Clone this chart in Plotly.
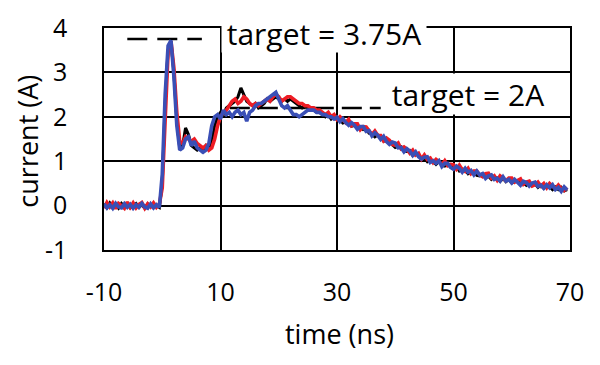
import plotly.graph_objects as go

time_ns = [
    -10.0, -9.5, -9.0, -8.5, -8.0, -7.5, -7.0, -6.5, -6.0, -5.5,
    -5.0, -4.5, -4.0, -3.5, -3.0, -2.5, -2.0, -1.5, -1.0, -0.5,
    0.0, 0.5, 1.0, 1.5, 2.0, 2.5, 3.0, 3.5, 4.0, 4.5,
    5.0, 5.5, 6.0, 6.5, 7.0, 7.5, 8.0, 8.5, 9.0, 9.5,
    10.0, 10.5, 11.0, 11.5, 12.0, 12.5, 13.0, 13.5, 14.0, 14.5,
    15.0, 15.5, 16.0, 16.5, 17.0, 17.5, 18.0, 18.5, 19.0, 19.5,
    20.0, 20.5, 21.0, 21.5, 22.0, 22.5, 23.0, 23.5, 24.0, 24.5,
    25.0, 25.5, 26.0, 26.5, 27.0, 27.5, 28.0, 28.5, 29.0, 29.5,
    30.0, 30.5, 31.0, 31.5, 32.0, 32.5, 33.0, 33.5, 34.0, 34.5,
    35.0, 35.5, 36.0, 36.5, 37.0, 37.5, 38.0, 38.5, 39.0, 39.5,
    40.0, 40.5, 41.0, 41.5, 42.0, 42.5, 43.0, 43.5, 44.0, 44.5,
    45.0, 45.5, 46.0, 46.5, 47.0, 47.5, 48.0, 48.5, 49.0, 49.5,
    50.0, 50.5, 51.0, 51.5, 52.0, 52.5, 53.0, 53.5, 54.0, 54.5,
    55.0, 55.5, 56.0, 56.5, 57.0, 57.5, 58.0, 58.5, 59.0, 59.5,
    60.0, 60.5, 61.0, 61.5, 62.0, 62.5, 63.0, 63.5, 64.0, 64.5,
    65.0, 65.5, 66.0, 66.5, 67.0, 67.5, 68.0, 68.5, 69.0, 69.5,
]

current_black = [
    0.04, -0.05, 0.06, -0.03, 0.02, -0.06, 0.05, -0.02, 0.04, -0.05,
    0.01, 0.05, -0.04, 0.02, -0.06, 0.04, -0.02, 0.05, 0.00, -0.04,
    0.5, 2.3, 3.5, 3.7, 3.0, 1.9, 1.3, 1.35, 1.75, 1.6,
    1.35, 1.3, 1.25, 1.3, 1.2, 1.35, 1.3, 1.45, 1.8, 2.0,
    2.1, 2.05, 2.2, 2.25, 2.3, 2.35, 2.45, 2.65, 2.5, 2.35,
    2.3, 2.25, 2.3, 2.2, 2.25, 2.3, 2.4, 2.35, 2.4, 2.45,
    2.4, 2.35, 2.4, 2.35, 2.4, 2.35, 2.3, 2.25, 2.2, 2.25,
    2.2, 2.15, 2.15, 2.1, 2.1, 2.05, 2.0, 2.05, 1.95, 2.0,
    1.93, 1.95, 1.86, 1.88, 1.89, 1.79, 1.81, 1.73, 1.77, 1.71,
    1.73, 1.63, 1.61, 1.55, 1.59, 1.54, 1.45, 1.46, 1.46, 1.37,
    1.31, 1.34, 1.33, 1.23, 1.22, 1.24, 1.13, 1.16, 1.14, 1.04,
    1.07, 0.99, 1.04, 1.00, 0.93, 0.99, 0.91, 0.89, 0.94, 0.89,
    0.83, 0.88, 0.78, 0.82, 0.81, 0.72, 0.76, 0.77, 0.68, 0.67,
    0.71, 0.63, 0.66, 0.59, 0.65, 0.61, 0.55, 0.61, 0.54, 0.59,
    0.51, 0.55, 0.56, 0.47, 0.51, 0.46, 0.52, 0.45, 0.49, 0.41,
    0.46, 0.39, 0.45, 0.42, 0.36, 0.42, 0.36, 0.41, 0.33, 0.36,
]

current_red = [
    -0.06, 0.07, -0.03, 0.06, -0.07, 0.05, 0.00, -0.06, 0.08, -0.04,
    0.06, -0.05, 0.03, 0.07, -0.06, 0.04, -0.03, 0.06, -0.04, 0.03,
    0.4, 2.2, 3.45, 3.7, 3.1, 2.1, 1.45, 1.4, 1.55, 1.5,
    1.45, 1.5, 1.4, 1.35, 1.3, 1.35, 1.25, 1.3, 1.5, 1.8,
    2.0, 2.1, 2.15, 2.25, 2.35, 2.4, 2.3, 2.35, 2.45, 2.4,
    2.3, 2.25, 2.3, 2.25, 2.3, 2.35, 2.4, 2.35, 2.45, 2.5,
    2.45, 2.35, 2.4, 2.45, 2.45, 2.4, 2.35, 2.3, 2.3, 2.25,
    2.25, 2.2, 2.2, 2.15, 2.15, 2.1, 2.05, 2.1, 2.0, 2.05,
    1.94, 2.00, 1.94, 1.87, 1.94, 1.80, 1.84, 1.84, 1.71, 1.78,
    1.77, 1.67, 1.60, 1.68, 1.58, 1.58, 1.46, 1.52, 1.47, 1.38,
    1.36, 1.41, 1.28, 1.32, 1.27, 1.18, 1.25, 1.14, 1.18, 1.05,
    1.14, 1.04, 1.07, 0.97, 1.04, 0.99, 0.92, 1.01, 0.90, 0.93,
    0.92, 0.82, 0.91, 0.81, 0.77, 0.84, 0.72, 0.78, 0.78, 0.69,
    0.65, 0.72, 0.73, 0.62, 0.67, 0.57, 0.67, 0.62, 0.56, 0.62,
    0.62, 0.53, 0.57, 0.60, 0.48, 0.53, 0.55, 0.44, 0.47, 0.53,
    0.44, 0.50, 0.40, 0.50, 0.44, 0.38, 0.46, 0.38, 0.34, 0.41,
]

current_blue = [
    0.04, -0.05, 0.02, -0.06, 0.05, -0.03, -0.05, 0.04, -0.04, 0.03,
    -0.06, 0.02, -0.04, 0.05, -0.03, -0.06, 0.04, -0.05, 0.02, -0.04,
    0.7, 2.5, 3.6, 3.72, 2.9, 1.8, 1.25, 1.3, 1.5, 1.55,
    1.35, 1.45, 1.3, 1.25, 1.2, 1.25, 1.4, 1.8, 2.0, 2.05,
    1.95, 2.15, 2.05, 2.1, 2.0, 2.1, 2.15, 2.05, 2.1, 1.9,
    2.1, 2.15, 2.25, 2.3, 2.3, 2.35, 2.4, 2.45, 2.5, 2.55,
    2.4, 2.25, 2.2, 2.25, 2.15, 2.05, 2.05, 2.0, 2.05, 2.1,
    2.15, 2.15, 2.15, 2.1, 2.1, 2.05, 2.05, 2.0, 2.0, 1.95,
    1.99, 1.89, 1.96, 1.87, 1.81, 1.87, 1.81, 1.72, 1.78, 1.78,
    1.67, 1.69, 1.57, 1.64, 1.58, 1.49, 1.56, 1.44, 1.38, 1.43,
    1.41, 1.30, 1.31, 1.21, 1.28, 1.23, 1.13, 1.21, 1.10, 1.05,
    1.09, 1.10, 0.97, 1.01, 0.95, 1.01, 0.88, 0.95, 0.95, 0.86,
    0.82, 0.89, 0.84, 0.75, 0.84, 0.75, 0.79, 0.69, 0.78, 0.69,
    0.72, 0.61, 0.67, 0.69, 0.59, 0.62, 0.55, 0.65, 0.55, 0.59,
    0.51, 0.59, 0.52, 0.46, 0.55, 0.52, 0.44, 0.51, 0.53, 0.43,
    0.46, 0.39, 0.47, 0.40, 0.47, 0.36, 0.41, 0.32, 0.42, 0.35,
]

target_peak_x = [-6.0, 6.8]
target_peak_y = [3.75, 3.75]
target_flat_x = [11.6, 37.5]
target_flat_y = [2.2, 2.2]

x_ticks = [-10, 10, 30, 50, 70]
x_tick_text = ["-10", "10", "30", "50", "70"]
y_ticks = [-1, 0, 1, 2, 3, 4]
y_tick_text = ["-1", "0", "1", "2", "3", "4"]

assert len(time_ns) == len(current_black) == len(current_red) == len(current_blue), (
    len(time_ns), len(current_black), len(current_red), len(current_blue))

FONT = "Open Sans"

fig = go.Figure()
fig.add_trace(go.Scatter(x=target_peak_x, y=target_peak_y, mode="lines",
                         line=dict(color="black", width=2.5, dash="20px,10px")))
fig.add_trace(go.Scatter(x=target_flat_x, y=target_flat_y, mode="lines",
                         line=dict(color="black", width=2.5, dash="20px,8px")))
fig.add_trace(go.Scatter(x=time_ns, y=current_black, mode="lines",
                         line=dict(color="#000000", width=3)))
fig.add_trace(go.Scatter(x=time_ns, y=current_red, mode="lines",
                         line=dict(color="#ee1c24", width=3.6)))
fig.add_trace(go.Scatter(x=time_ns, y=current_blue, mode="lines",
                         line=dict(color="#3a4fb6", width=3.6)))

fig.add_annotation(x=27.76, y=3.885, xref="x", yref="y", text="target = 3.75A",
                   showarrow=False, bgcolor="white", width=204, height=38,
                   xanchor="center", yanchor="middle",
                   font=dict(family=FONT, size=30, color="black"), borderpad=0)
fig.add_annotation(x=52.5, y=2.52, xref="x", yref="y", text="target = 2A",
                   showarrow=False, bgcolor="white", width=160, height=40,
                   xanchor="center", yanchor="middle",
                   font=dict(family=FONT, size=30, color="black"), borderpad=0)

fig.add_annotation(x=0.505, y=-0.374, xref="paper", yref="paper", text="time (ns)",
                   xanchor="center", yanchor="middle",
                   showarrow=False, font=dict(family=FONT, size=27, color="black"))
fig.add_annotation(x=-0.166, y=(250 - 141) / 222, xref="paper", yref="paper",
                   text="current (A)", textangle=-90, showarrow=False,
                   xanchor="center", yanchor="middle",
                   font=dict(family=FONT, size=27, color="black"))

axis_common = dict(showline=True, linecolor="black", linewidth=1.5, mirror=True,
                   showgrid=True, gridcolor="black", gridwidth=1.5, zeroline=False,
                   ticks="", automargin=False,
                   tickfont=dict(family=FONT, size=25, color="black"))

fig.update_xaxes(range=[-10, 70], tickvals=x_ticks, ticktext=x_tick_text,
                 ticklabelstandoff=19, **axis_common)
fig.update_yaxes(range=[-1, 4], tickvals=y_ticks, ticktext=y_tick_text,
                 ticklabelstandoff=30, **axis_common)

# page body has an 8px default margin, so the figure is 8px smaller on each axis
fig.update_layout(width=592, height=357, showlegend=False,
                  margin=dict(l=96, r=30, t=20, b=115, autoexpand=False),
                  paper_bgcolor="white", plot_bgcolor="white",
                  font=dict(family=FONT))

fig.write_html("out.html")
